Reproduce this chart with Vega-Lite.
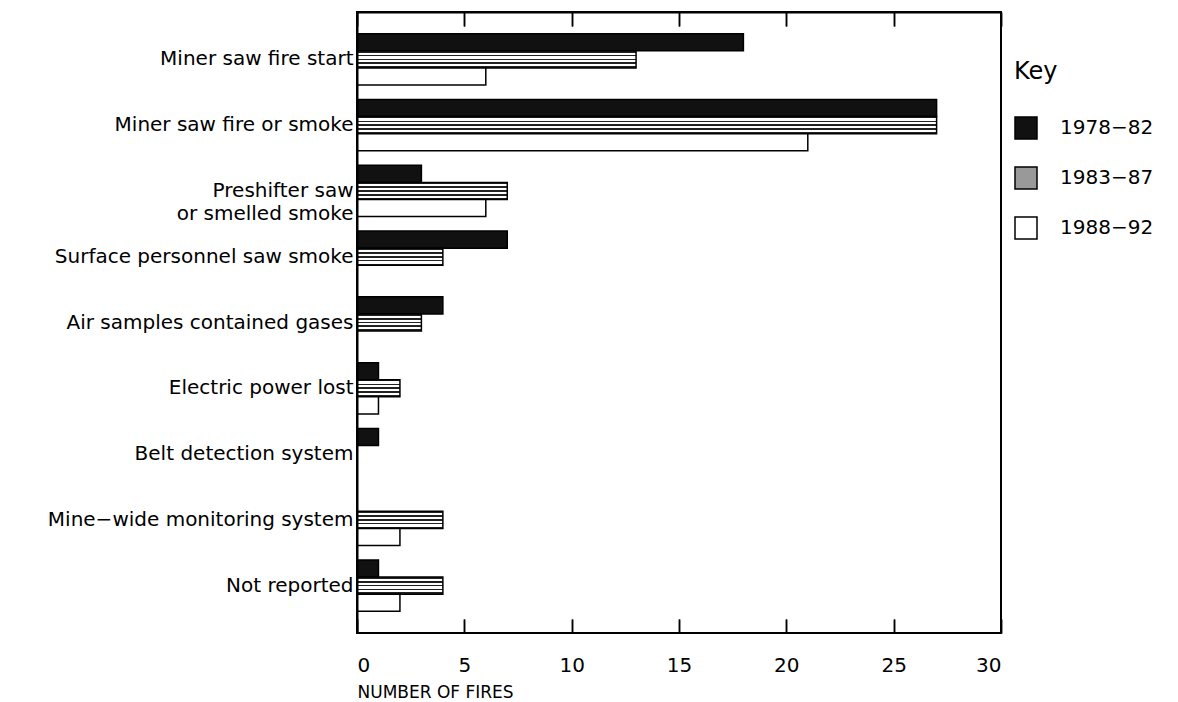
{
  "$schema": "https://vega.github.io/schema/vega-lite/v6.json",
  "width": 644,
  "height": 621,
  "autosize": "none",
  "padding": {"left": 357, "top": 12, "right": 177, "bottom": 69},
  "background": "white",
  "config": {
    "view": {"stroke": "black", "strokeWidth": 2},
    "font": "DejaVu Sans"
  },
  "data": {
    "values": [
      {"cause": "Miner saw fire start", "period": "1978-82", "fires": 18},
      {"cause": "Miner saw fire start", "period": "1983-87", "fires": 13},
      {"cause": "Miner saw fire start", "period": "1988-92", "fires": 6},
      {"cause": "Miner saw fire or smoke", "period": "1978-82", "fires": 27},
      {"cause": "Miner saw fire or smoke", "period": "1983-87", "fires": 27},
      {"cause": "Miner saw fire or smoke", "period": "1988-92", "fires": 21},
      {"cause": "Preshifter saw or smelled smoke", "period": "1978-82", "fires": 3},
      {"cause": "Preshifter saw or smelled smoke", "period": "1983-87", "fires": 7},
      {"cause": "Preshifter saw or smelled smoke", "period": "1988-92", "fires": 6},
      {"cause": "Surface personnel saw smoke", "period": "1978-82", "fires": 7},
      {"cause": "Surface personnel saw smoke", "period": "1983-87", "fires": 4},
      {"cause": "Air samples contained gases", "period": "1978-82", "fires": 4},
      {"cause": "Air samples contained gases", "period": "1983-87", "fires": 3},
      {"cause": "Electric power lost", "period": "1978-82", "fires": 1},
      {"cause": "Electric power lost", "period": "1983-87", "fires": 2},
      {"cause": "Electric power lost", "period": "1988-92", "fires": 1},
      {"cause": "Belt detection system", "period": "1978-82", "fires": 1},
      {"cause": "Mine−wide monitoring system", "period": "1983-87", "fires": 4},
      {"cause": "Mine−wide monitoring system", "period": "1988-92", "fires": 2},
      {"cause": "Not reported", "period": "1978-82", "fires": 1},
      {"cause": "Not reported", "period": "1983-87", "fires": 4},
      {"cause": "Not reported", "period": "1988-92", "fires": 2}
    ]
  },
  "encoding": {
    "y": {
      "field": "cause",
      "type": "nominal",
      "sort": null,
      "scale": {"paddingInner": 0.22, "paddingOuter": 0.33},
      "axis": {
        "title": null,
        "ticks": false,
        "domainColor": "black",
        "domainWidth": 2,
        "labelFontSize": 20,
        "labelColor": "black",
        "labelPadding": 4,
        "labelLimit": 400,
        "labelLineHeight": 23,
        "zindex": 1,
        "labelExpr": "datum.value === 'Preshifter saw or smelled smoke' ? ['Preshifter saw', 'or smelled smoke'] : datum.value"
      }
    },
    "yOffset": {
      "field": "period",
      "type": "nominal",
      "scale": {"domain": ["1978-82", "1983-87", "1988-92"], "paddingInner": 0, "paddingOuter": 0}
    },
    "x": {
      "field": "fires",
      "type": "quantitative",
      "scale": {"domain": [0, 30]}
    }
  },
  "layer": [
    {
      "mark": {"type": "bar", "stroke": "black", "strokeWidth": 1.5, "opacity": 0},
      "encoding": {
        "x": {
          "field": "fires",
          "type": "quantitative",
          "scale": {"domain": [0, 30]},
          "axis": {
            "orient": "bottom",
            "offset": -14,
            "values": [0, 5, 10, 15, 20, 25, 30],
            "grid": true,
            "gridColor": "black",
            "gridWidth": 1.5,
            "gridOpacity": 1,
            "gridDash": [14, 593],
            "ticks": true,
            "domain": false,
            "tickSize": 14,
            "tickColor": "black",
            "tickWidth": 1.5,
            "zindex": 1,
            "labelFontSize": 20,
            "labelColor": "black",
            "labelPadding": 22,
            "title": "NUMBER OF FIRES",
            "titleFontSize": 17,
            "titleFontWeight": "normal",
            "titleColor": "black",
            "titleAnchor": "start",
            "titleAlign": "left",
            "titleX": 0,
            "titleY": 78,
            "titleBaseline": "alphabetic"
          }
        }
      }
    },
    {
      "mark": {"type": "bar", "stroke": "black", "strokeWidth": 1.5},
      "encoding": {
        "x": {
          "field": "fires",
          "type": "quantitative",
          "scale": {"domain": [0, 30]},
          "axis": {
            "orient": "top",
            "values": [0, 5, 10, 15, 20, 25, 30],
            "grid": false,
            "labels": false,
            "title": null,
            "tickSize": -14,
            "tickColor": "black",
            "tickWidth": 1.5,
            "domainColor": "black",
            "domainWidth": 2,
            "zindex": 1
          }
        },
        "fill": {
          "condition": {
            "test": "datum.period === '1983-87'",
            "value": {
              "gradient": "linear", "x1": 0, "y1": 0, "x2": 0, "y2": 1,
              "stops": [
                {"offset": 0, "color": "#222"},
                {"offset": 0.1, "color": "#222"},
                {"offset": 0.1, "color": "#fff"},
                {"offset": 0.23, "color": "#fff"},
                {"offset": 0.23, "color": "#222"},
                {"offset": 0.33, "color": "#222"},
                {"offset": 0.33, "color": "#fff"},
                {"offset": 0.45, "color": "#fff"},
                {"offset": 0.45, "color": "#222"},
                {"offset": 0.55, "color": "#222"},
                {"offset": 0.55, "color": "#fff"},
                {"offset": 0.67, "color": "#fff"},
                {"offset": 0.67, "color": "#222"},
                {"offset": 0.77, "color": "#222"},
                {"offset": 0.77, "color": "#fff"},
                {"offset": 0.9, "color": "#fff"},
                {"offset": 0.9, "color": "#222"},
                {"offset": 1, "color": "#222"}
              ]
            }
          },
          "field": "period",
          "type": "nominal",
          "scale": {
            "domain": ["1978-82", "1983-87", "1988-92"],
            "range": ["#111111", "#999999", "#ffffff"]
          },
          "legend": {
            "title": "Key",
            "orient": "none",
            "legendX": 657,
            "legendY": 48,
            "titleFontSize": 24,
            "titleFontWeight": "normal",
            "titleColor": "black",
            "titlePadding": 32,
            "symbolType": "square",
            "symbolSize": 484,
            "symbolStrokeColor": "black",
            "symbolStrokeWidth": 1.5,
            "symbolOpacity": 1,
            "labelFontSize": 20,
            "labelColor": "black",
            "labelOffset": 22,
            "rowPadding": 22,
            "labelExpr": "replace(datum.label, '-', '−')"
          }
        }
      }
    }
  ],
  "resolve": {"axis": {"x": "independent"}}
}
